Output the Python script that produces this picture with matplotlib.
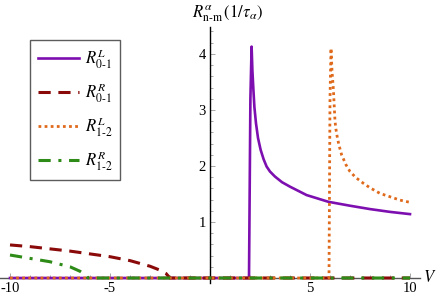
import numpy as np
import matplotlib
matplotlib.use("Agg")
import matplotlib.pyplot as plt
from matplotlib.ticker import MultipleLocator

plt.rcParams['font.family'] = ['Liberation Serif', 'DejaVu Serif']
plt.rcParams['mathtext.fontset'] = 'stix'
plt.rcParams['axes.unicode_minus'] = False

# R_{0-1}^L (solid purple)
v_l01 = [-10, 1.95, 2.02, 2.08, 2.12, 2.17, 2.22, 2.3, 2.4, 2.53, 2.68, 2.83, 3.0, 3.25,
         3.6, 4.0, 4.83, 5.92, 7.0, 8.0, 9.0, 10.0]
r_l01 = [0, 0, 3.2, 4.13, 3.7, 3.36, 3.05, 2.76, 2.5, 2.29, 2.12, 1.99, 1.9, 1.81,
         1.71, 1.63, 1.48, 1.36, 1.29, 1.23, 1.18, 1.14]

# R_{0-1}^R (dashed dark red)
v_r01 = [-10, -9, -8, -7, -6, -5, -4, -3.5, -3.0, -2.5, -2.2, -2.0, 10]
r_r01 = [0.59, 0.56, 0.52, 0.48, 0.43, 0.38, 0.31, 0.26, 0.21, 0.14, 0.08, 0, 0]

# R_{1-2}^L (dotted orange)
v_l12 = [-10, 5.95, 6.0, 6.05, 6.1, 6.17, 6.25, 6.3, 6.37, 6.45, 6.58, 6.8, 7.0, 7.3,
         7.67, 8.0, 8.5, 9.0, 9.5, 10.0]
r_l12 = [0, 0, 3.2, 4.1, 3.7, 3.36, 2.8, 2.65, 2.5, 2.37, 2.2, 2.02, 1.9, 1.79,
         1.69, 1.61, 1.51, 1.45, 1.39, 1.35]

# R_{1-2}^R (dash-dot green)
v_r12 = [-10, -9, -8, -7, -6.5, -6.2, -6.1, 10]
r_r12 = [0.41, 0.35, 0.29, 0.2, 0.12, 0.05, 0, 0]

labels = [r'$R^{L}_{\rm 0\text{-}1}$', r'$R^{R}_{\rm 0\text{-}1}$',
          r'$R^{L}_{\rm 1\text{-}2}$', r'$R^{R}_{\rm 1\text{-}2}$']

fig = plt.figure(figsize=(4.36, 3.0), dpi=100)
ax = fig.add_axes([0, 17/300, 420/436, 256/300])

ax.plot(v_l01, r_l01, color='#7D0FB0', lw=1.9, label=labels[0], zorder=3)
ax.plot(v_r01, r_r01, color='#8A0A0A', lw=2.2, ls=(0, (4, 2.5)), label=labels[1], zorder=3)
ax.plot(v_l12, r_l12, color='#E06A1C', lw=2.0, ls=(0, (1, 1.2)), label=labels[2], zorder=3)
ax.plot(v_r12, r_r12, color='#2E8B17', lw=2.2, ls=(0, (4, 2.5, 1, 2.5)), label=labels[3], zorder=3)

ax.set_xlim(-10.5, 10.5)
ax.set_ylim(-5/56, 4.48)

for s in ['top', 'right']:
    ax.spines[s].set_visible(False)
ax.spines['left'].set_position(('data', 0))
ax.spines['bottom'].set_position(('data', 0))
ax.spines['left'].set_linewidth(1.0)
ax.spines['bottom'].set_linewidth(1.0)
ax.spines['bottom'].set_color('#555555')

ax.set_xticks([-10, -5, 5, 10])
ax.set_xticklabels(['-10', '-5', '5', '10'])
ax.set_yticks([1, 2, 3, 4])
ax.xaxis.set_minor_locator(MultipleLocator(1))
ax.yaxis.set_minor_locator(MultipleLocator(0.2))
ax.tick_params(which='both', direction='in', color='#999999', width=0.6, labelsize=10.5)
ax.tick_params(which='major', length=3.5)
ax.tick_params(which='minor', length=2)
ax.tick_params(axis='x', pad=3)
ax.tick_params(axis='y', pad=3)

fig.text(192/436, 1 - 17/300, r'$R^{\alpha}_{\rm n\text{-}m}\,(1/\tau_{\alpha})$',
         fontsize=12, ha='left', va='baseline')
fig.text(423/436, 1 - 278/300, r'$V$', fontsize=12, ha='left', va='center')

leg = ax.legend(loc='upper left', bbox_to_anchor=(30/436, 1 - 40/300),
                bbox_transform=fig.transFigure, fontsize=12, frameon=True,
                fancybox=False, edgecolor='#333333', handlelength=2.5,
                labelspacing=0.62, borderpad=0.45, handletextpad=0.35, borderaxespad=0)
leg.get_frame().set_linewidth(1.0)

fig.savefig('out.png', dpi=100)
